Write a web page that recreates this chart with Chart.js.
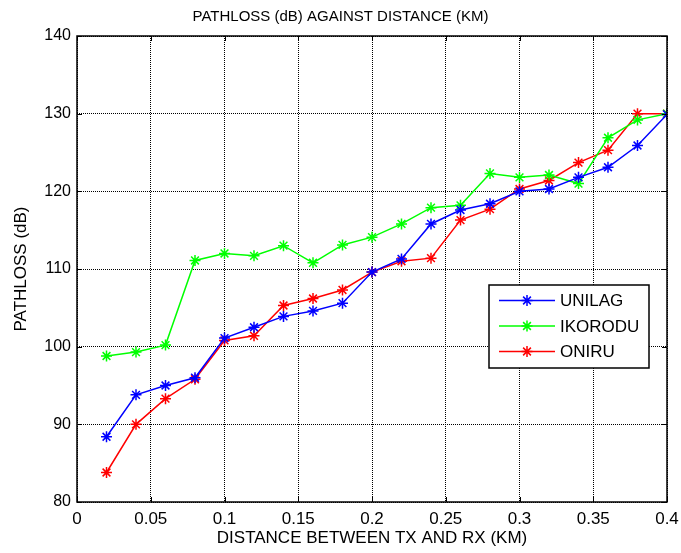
<!DOCTYPE html>
<html>
<head>
<meta charset="utf-8">
<script src="https://cdn.jsdelivr.net/npm/chart.js@4"></script>
<style>
  html, body { margin: 0; padding: 0; background: #fff; }
  #wrap { width: 681px; height: 553px; }
</style>
</head>
<body>
<div id="wrap"><canvas id="c" width="681" height="553"></canvas></div>
<script>
const distances = [0.02, 0.04, 0.06, 0.08, 0.10, 0.12, 0.14, 0.16, 0.18, 0.20, 0.22, 0.24, 0.26, 0.28, 0.30, 0.32, 0.34, 0.36, 0.38, 0.40];
const unilag  = [88.4, 93.8, 95.0, 96.0, 101.1, 102.5, 103.9, 104.6, 105.6, 109.6, 111.3, 115.8, 117.6, 118.4, 120.0, 120.3, 121.8, 123.1, 125.9, 129.9];
const ikorodu = [98.8, 99.3, 100.2, 111.1, 112.0, 111.7, 113.0, 110.8, 113.1, 114.1, 115.8, 117.9, 118.2, 122.3, 121.8, 122.1, 121.0, 126.9, 129.2, 130.0];
const oniru   = [83.8, 90.0, 93.3, 95.8, 100.8, 101.4, 105.3, 106.2, 107.3, 109.6, 111.0, 111.4, 116.3, 117.7, 120.3, 121.4, 123.7, 125.3, 130.0, 130.0];
const seriesNames = ['UNILAG', 'IKORODU', 'ONIRU'];
const seriesColors = ['#0000ff', '#00ff00', '#ff0000'];
const xTickValues = [0, 0.05, 0.1, 0.15, 0.2, 0.25, 0.3, 0.35, 0.4];
const yTickValues = [80, 90, 100, 110, 120, 130, 140];
const titleText = 'PATHLOSS (dB) AGAINST DISTANCE (KM)';
const xTitle = 'DISTANCE BETWEEN TX AND RX (KM)';
const yTitle = 'PATHLOSS (dB)';

const FONT = "'Liberation Sans', Arial, sans-serif";

function mk(values, i) {
  return {
    label: seriesNames[i],
    data: distances.map((x, k) => ({ x: x, y: values[k] })),
    borderColor: seriesColors[i],
    backgroundColor: seriesColors[i],
    borderWidth: 1.5,
    pointStyle: 'star',
    pointRadius: 5.5,
    pointHoverRadius: 5.5,
    pointBorderWidth: 1.5,
    tension: 0,
    fill: false
  };
}

const boxPlugin = {
  id: 'boxPlugin',
  afterDraw(chart) {
    const ctx = chart.ctx;
    const a = chart.chartArea;
    const xs = chart.scales.x, ys = chart.scales.y;
    ctx.save();
    ctx.strokeStyle = '#000';
    ctx.lineWidth = 1.5;
    ctx.setLineDash([]);
    ctx.strokeRect(a.left, a.top, a.right - a.left, a.bottom - a.top);
    ctx.lineWidth = 1;
    const tl = 5;
    ctx.beginPath();
    xTickValues.forEach(v => {
      const px = Math.round(xs.getPixelForValue(v)) + 0.5;
      ctx.moveTo(px, a.bottom); ctx.lineTo(px, a.bottom - tl);
      ctx.moveTo(px, a.top); ctx.lineTo(px, a.top + tl);
    });
    yTickValues.forEach(v => {
      const py = Math.round(ys.getPixelForValue(v)) + 0.5;
      ctx.moveTo(a.left, py); ctx.lineTo(a.left + tl, py);
      ctx.moveTo(a.right, py); ctx.lineTo(a.right - tl, py);
    });
    ctx.stroke();

    // legend box inside plot
    const bx = 489, by = 285, bw = 160, bh = 83;
    ctx.fillStyle = '#fff';
    ctx.fillRect(bx, by, bw, bh);
    ctx.lineWidth = 1.5;
    ctx.strokeStyle = '#000';
    ctx.strokeRect(bx, by, bw, bh);
    ctx.font = '17px ' + FONT;
    ctx.textBaseline = 'middle';
    ctx.textAlign = 'left';
    chart.data.datasets.forEach((ds, i) => {
      const yy = by + 15.5 + i * 25.5;
      ctx.strokeStyle = ds.borderColor;
      ctx.lineWidth = 1.5;
      ctx.beginPath();
      ctx.moveTo(499, yy); ctx.lineTo(555, yy);
      ctx.stroke();
      const r = 5.5;
      ctx.beginPath();
      ctx.moveTo(527 - r, yy); ctx.lineTo(527 + r, yy);
      ctx.moveTo(527, yy - r); ctx.lineTo(527, yy + r);
      const d = r * Math.SQRT1_2;
      ctx.moveTo(527 - d, yy - d); ctx.lineTo(527 + d, yy + d);
      ctx.moveTo(527 - d, yy + d); ctx.lineTo(527 + d, yy - d);
      ctx.stroke();
      ctx.fillStyle = '#000';
      ctx.fillText(ds.label, 560, yy + 1);
    });
    ctx.restore();
  }
};

new Chart(document.getElementById('c'), {
  type: 'line',
  data: {
    datasets: [mk(unilag, 0), mk(ikorodu, 1), mk(oniru, 2)]
  },
  options: {
    responsive: false,
    animation: false,
    events: [],
    layout: { padding: 0 },
    plugins: {
      legend: { display: false },
      tooltip: { enabled: false },
      title: {
        display: true,
        text: titleText,
        color: '#000',
        font: { family: FONT, size: 15, weight: 'normal' },
        padding: { top: 8, bottom: 10 }
      }
    },
    scales: {
      x: {
        type: 'linear',
        min: 0, max: 0.4,
        afterBuildTicks: (s) => { s.ticks = xTickValues.map(v => ({ value: v })); },
        afterFit: (s) => { s.height = 51; s.paddingRight = 0; s.paddingLeft = 0; },
        ticks: {
          color: '#000',
          font: { family: FONT, size: 17 },
          padding: 7,
          maxRotation: 0,
          autoSkip: false,
          callback: (v) => String(Math.round(v * 100) / 100)
        },
        grid: { color: '#000', lineWidth: 1, drawTicks: false },
        border: { display: false, dash: [1, 1] },
        title: {
          display: true, text: xTitle, color: '#000',
          font: { family: FONT, size: 17 },
          padding: { top: 0, bottom: 4 }
        }
      },
      y: {
        type: 'linear',
        min: 80, max: 140,
        afterBuildTicks: (s) => { s.ticks = yTickValues.map(v => ({ value: v })); },
        afterFit: (s) => { s.width = 77; },
        ticks: {
          color: '#000',
          font: { family: FONT, size: 16 },
          padding: 6,
          autoSkip: false
        },
        grid: { color: '#000', lineWidth: 1, drawTicks: false },
        border: { display: false, dash: [1, 1] },
        title: {
          display: true, text: yTitle, color: '#000',
          font: { family: FONT, size: 17 },
          padding: { top: 11, bottom: 0 }
        }
      },
      yRight: {
        type: 'linear',
        position: 'right',
        min: 80, max: 140,
        display: true,
        afterFit: (s) => { s.width = 14; s.paddingTop = 0; s.paddingBottom = 0; },
        ticks: { display: false, padding: 0 },
        grid: { display: false, drawOnChartArea: false, drawTicks: false },
        border: { display: false }
      }
    }
  },
  plugins: [boxPlugin]
});
</script>
</body>
</html>
